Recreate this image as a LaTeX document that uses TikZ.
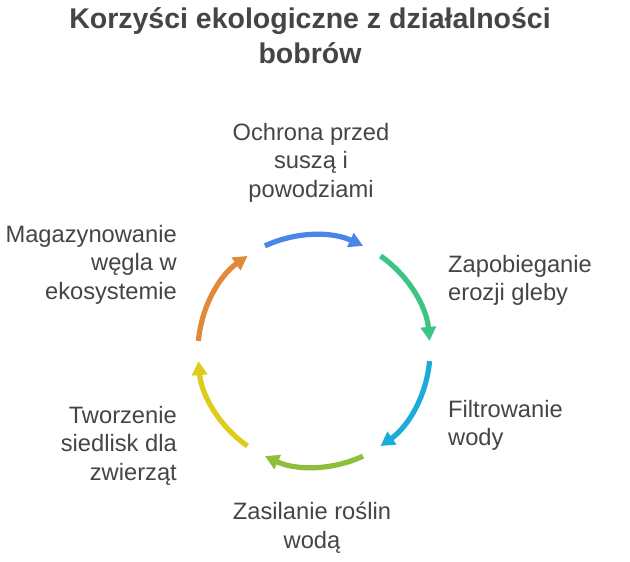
\documentclass[tikz,border=0pt]{standalone}
\usepackage{fontspec}
\setmainfont{Liberation Sans}
\usetikzlibrary{arrows.meta,calc}
\definecolor{txt}{HTML}{454545}
\definecolor{cblue}{HTML}{4A86E8}
\definecolor{cgreen}{HTML}{3CC484}
\definecolor{ccyan}{HTML}{1CACDA}
\definecolor{clime}{HTML}{8DBE3C}
\definecolor{cyellow}{HTML}{DFCB1C}
\definecolor{corange}{HTML}{E0893A}
\begin{document}
\begin{tikzpicture}[x=1pt,y=1pt,
  lbl/.style={text=txt,inner sep=0pt,font=\fontsize{23.7}{28.7}\selectfont,anchor=base},
  ttl/.style={text=txt,inner sep=0pt,font=\bfseries\fontsize{28.5}{35}\selectfont,anchor=base,align=center},
  seg/.style={line width=5.2pt,-{Triangle[length=14pt,width=15pt]}}]
\useasboundingbox (0,0) rectangle (630,-562);
\fill[white] (0,0) rectangle (630,-562);
\coordinate (c) at (314,-351);
\node[ttl] (title) at (310,-63) {Korzyści ekologiczne z działalności\\bobrów};
\node[lbl,align=center] (top) at (311,-197.4) {Ochrona przed\\suszą i\\powodziami};
\node[lbl,align=left,anchor=base west] (r1) at (448,-300.7) {Zapobieganie\\erozji gleby};
\node[lbl,align=left,anchor=base west] (r2) at (448,-445.7) {Filtrowanie\\wody};
\node[lbl,align=center] (bot) at (312,-548) {Zasilanie roślin\\wodą};
\node[lbl,align=right,anchor=base east] (l2) at (177,-480.4) {Tworzenie\\siedlisk dla\\zwierząt};
\node[lbl,align=right,anchor=base east] (l1) at (177,-299.4) {Magazynowanie\\węgla w\\ekosystemie};
\draw[seg,cblue]   ($(c)+(115:116)$) arc[start angle=115,end angle=65,radius=116];
\draw[seg,cgreen]  ($(c)+(55:116)$)  arc[start angle=55,end angle=5,radius=116];
\draw[seg,ccyan]   ($(c)+(-5:116)$)  arc[start angle=-5,end angle=-55,radius=116];
\draw[seg,clime]   ($(c)+(-65:116)$) arc[start angle=-65,end angle=-115,radius=116];
\draw[seg,cyellow] ($(c)+(-125:116)$) arc[start angle=-125,end angle=-175,radius=116];
\draw[seg,corange] ($(c)+(-185:116)$) arc[start angle=-185,end angle=-235,radius=116];
\end{tikzpicture}
\end{document}
